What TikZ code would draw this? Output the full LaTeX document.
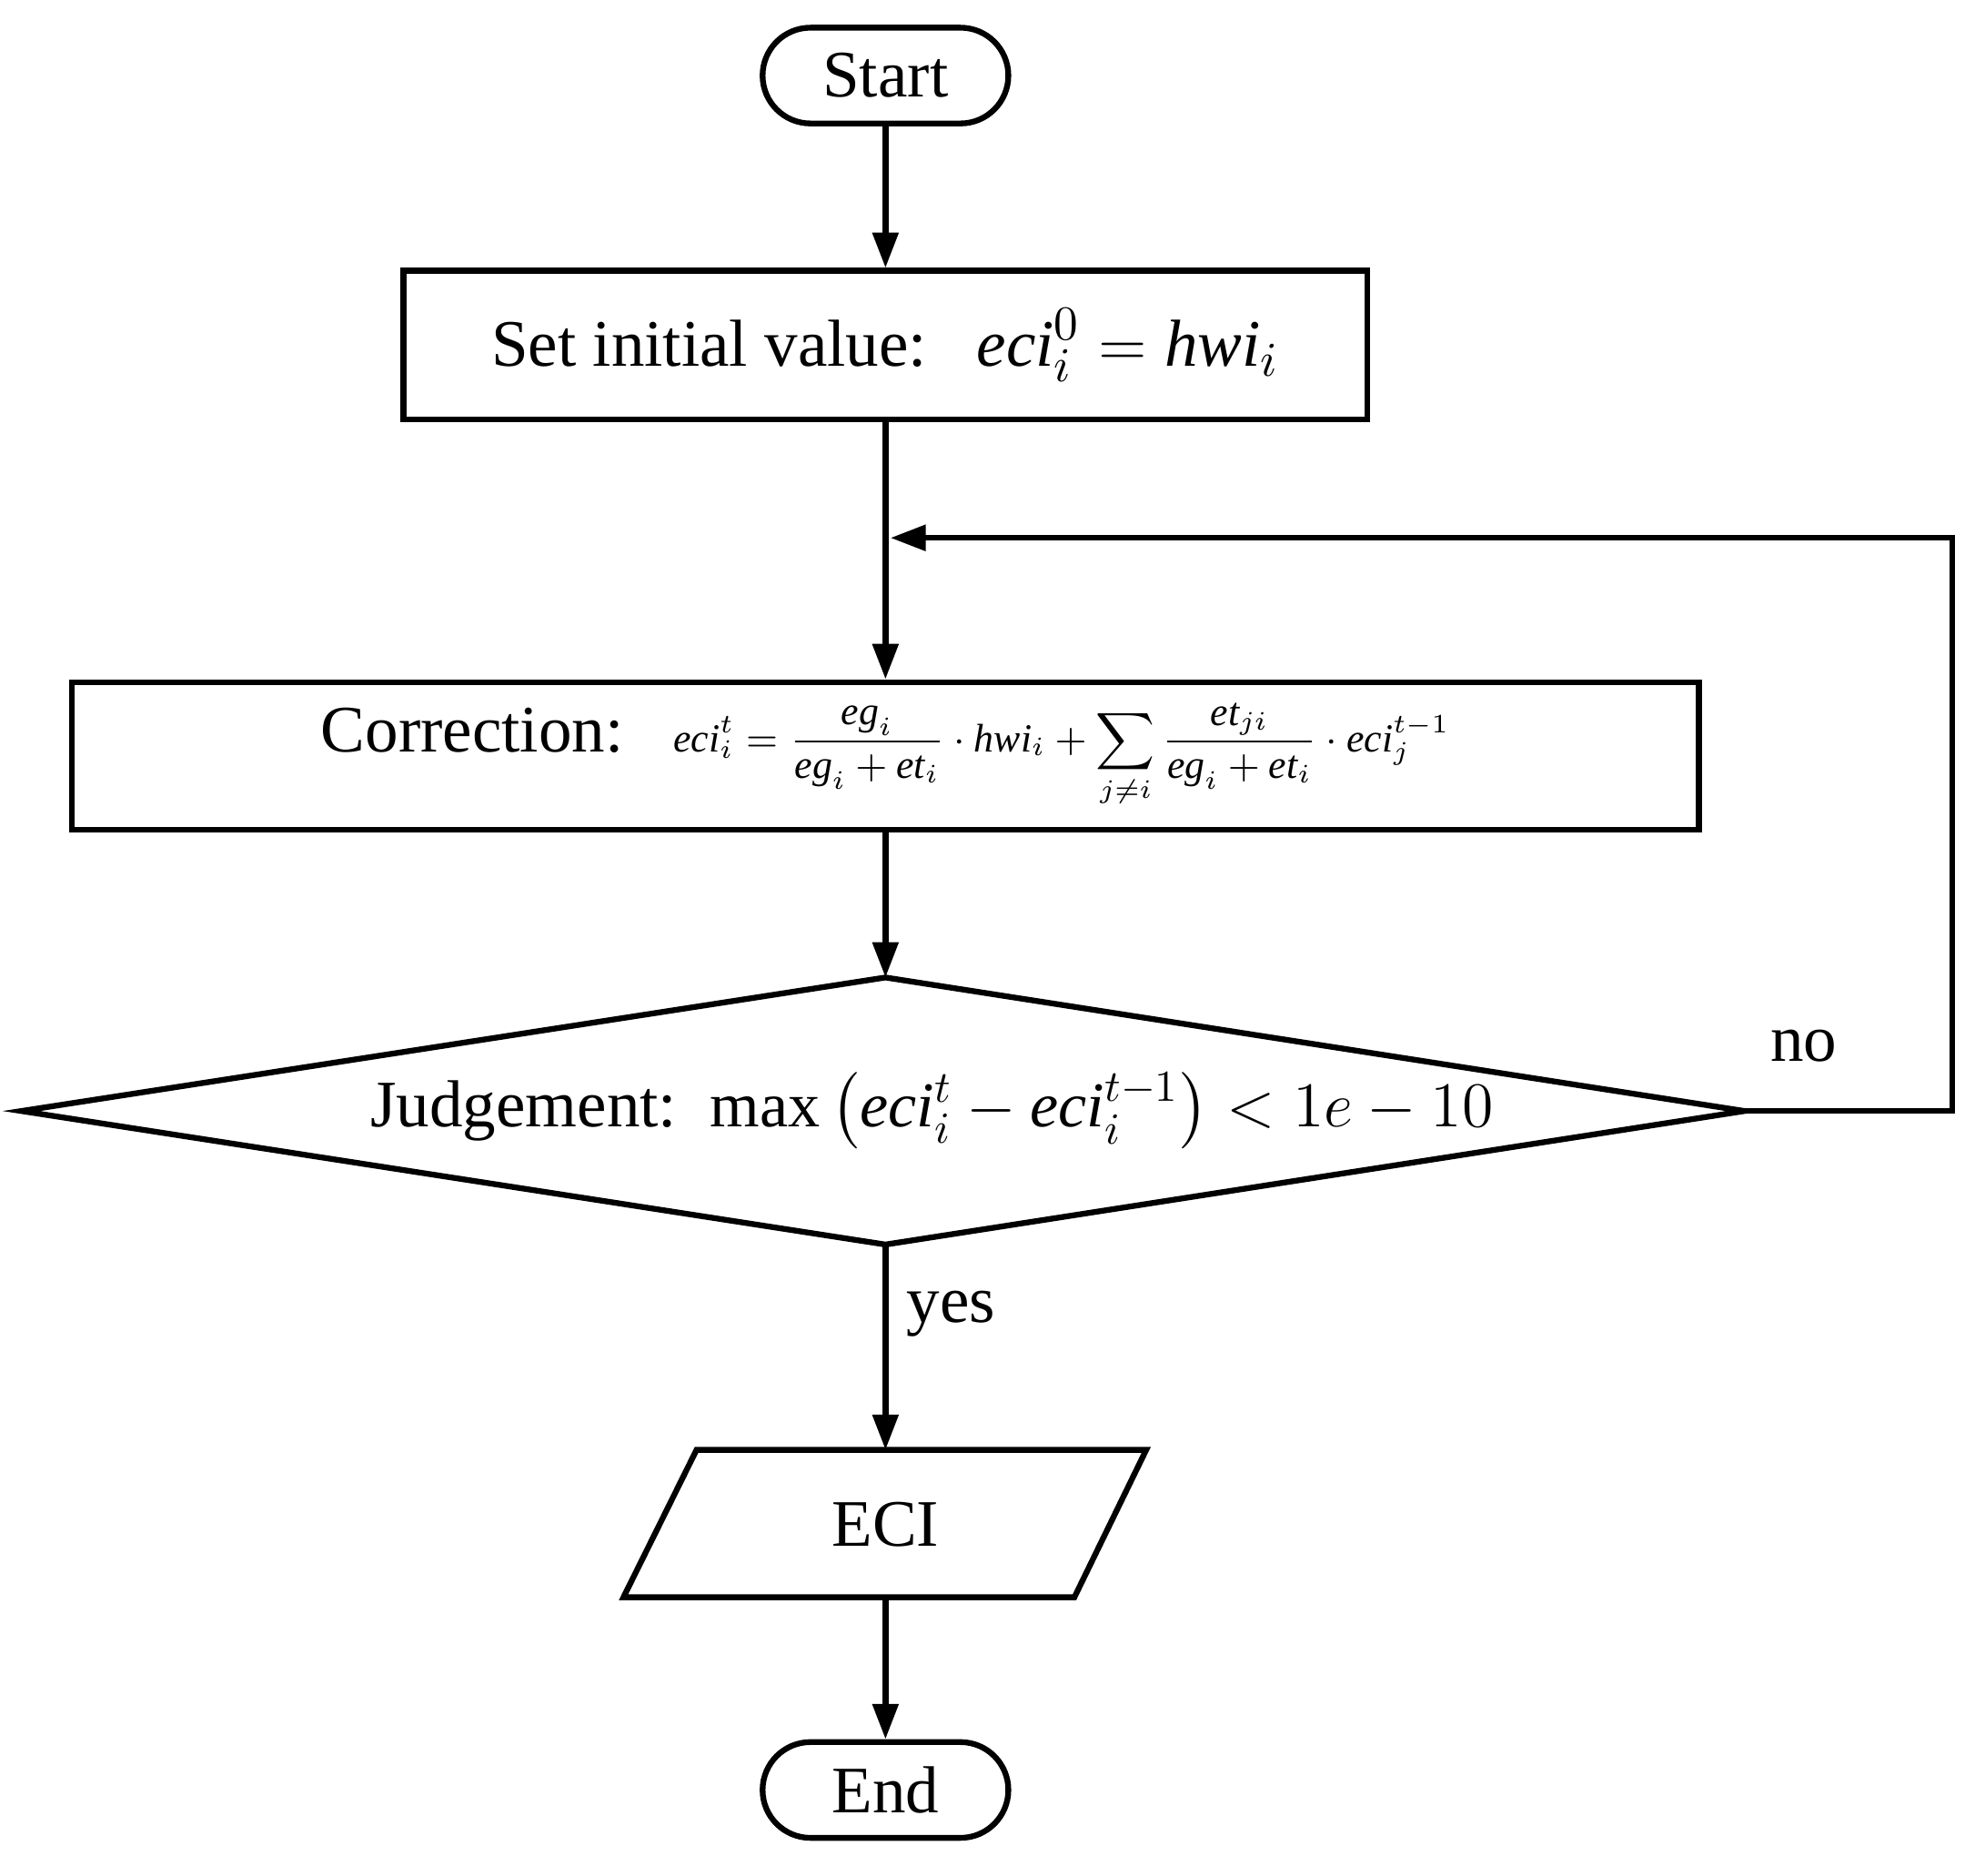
\documentclass[tikz,border=0pt]{standalone}
\usepackage{amsmath}
\usepackage{fontspec}
\setmainfont{Liberation Serif}
\usetikzlibrary{arrows.meta,shapes.geometric}
\begin{document}
\begin{tikzpicture}[x=0.01cm,y=-0.01cm,
  line width=1.3pt,
  arr/.style={-{Triangle[length=0.28cm,width=0.2cm]}},
  term/.style={draw,rounded corners=0.38cm,minimum width=1.95cm,minimum height=0.76cm,font=\fontsize{15}{17}\selectfont},
  box/.style={draw,font=\fontsize{15}{17}\selectfont},
  lab/.style={font=\fontsize{15}{17}\selectfont}]
\useasboundingbox (0,0) rectangle (1568,1489);
\node[term] (start) at (703,60) {Start};
\node[box,minimum width=7.65cm,minimum height=1.18cm] (init) at (703,274)
  {Set initial value:\ \ \ $\displaystyle \mathit{eci}_i^0=\mathit{hwi}_i$};
\node[box,minimum width=12.91cm,minimum height=1.17cm] (corr) at (703,600)
  {Correction:\ \ \ {\small$\displaystyle \mathit{eci}_i^t=\frac{\mathit{eg}_i}{\mathit{eg}_i+\mathit{et}_i}\cdot\mathit{hwi}_i+\sum_{j\neq i}\frac{\mathit{et}_{ji}}{\mathit{eg}_i+\mathit{et}_i}\cdot\mathit{eci}_j^{t-1}$}};
\coordinate (dt) at (703,776);
\coordinate (db) at (703,988);
\coordinate (dl) at (17,882);
\coordinate (dr) at (1385,882);
\draw (dt) -- (dr) -- (db) -- (dl) -- cycle;
\node[lab] (judge) at (740,882) {Judgement:\ \ {\Large$\max\left(\mathit{eci}_i^t-\mathit{eci}_i^{t-1}\right)<1e-10$}};
\coordinate (p1) at (553,1151);
\coordinate (p2) at (910,1151);
\coordinate (p3) at (853,1268);
\coordinate (p4) at (495,1268);
\draw (p1) -- (p2) -- (p3) -- (p4) -- cycle;
\node[lab] (eci) at (703,1210) {ECI};
\coordinate (ecitop) at (703,1151);
\coordinate (ecibot) at (703,1268);
\node[term] (end) at (703,1421) {End};
\coordinate (c1) at (1550,882);
\coordinate (c2) at (1550,427);
\coordinate (c3) at (707,427);
\draw[arr] (start) -- (init);
\draw[arr] (init) -- (corr);
\draw[arr] (corr) -- (dt);
\draw[arr] (db) -- (ecitop);
\draw[arr] (ecibot) -- (end);
\draw[arr] (dr) -- (c1) -- (c2) -- (c3);
\node[lab] (no) at (1432,830) {no};
\node[lab] (yes) at (755,1043) {yes};
\end{tikzpicture}
\end{document}
